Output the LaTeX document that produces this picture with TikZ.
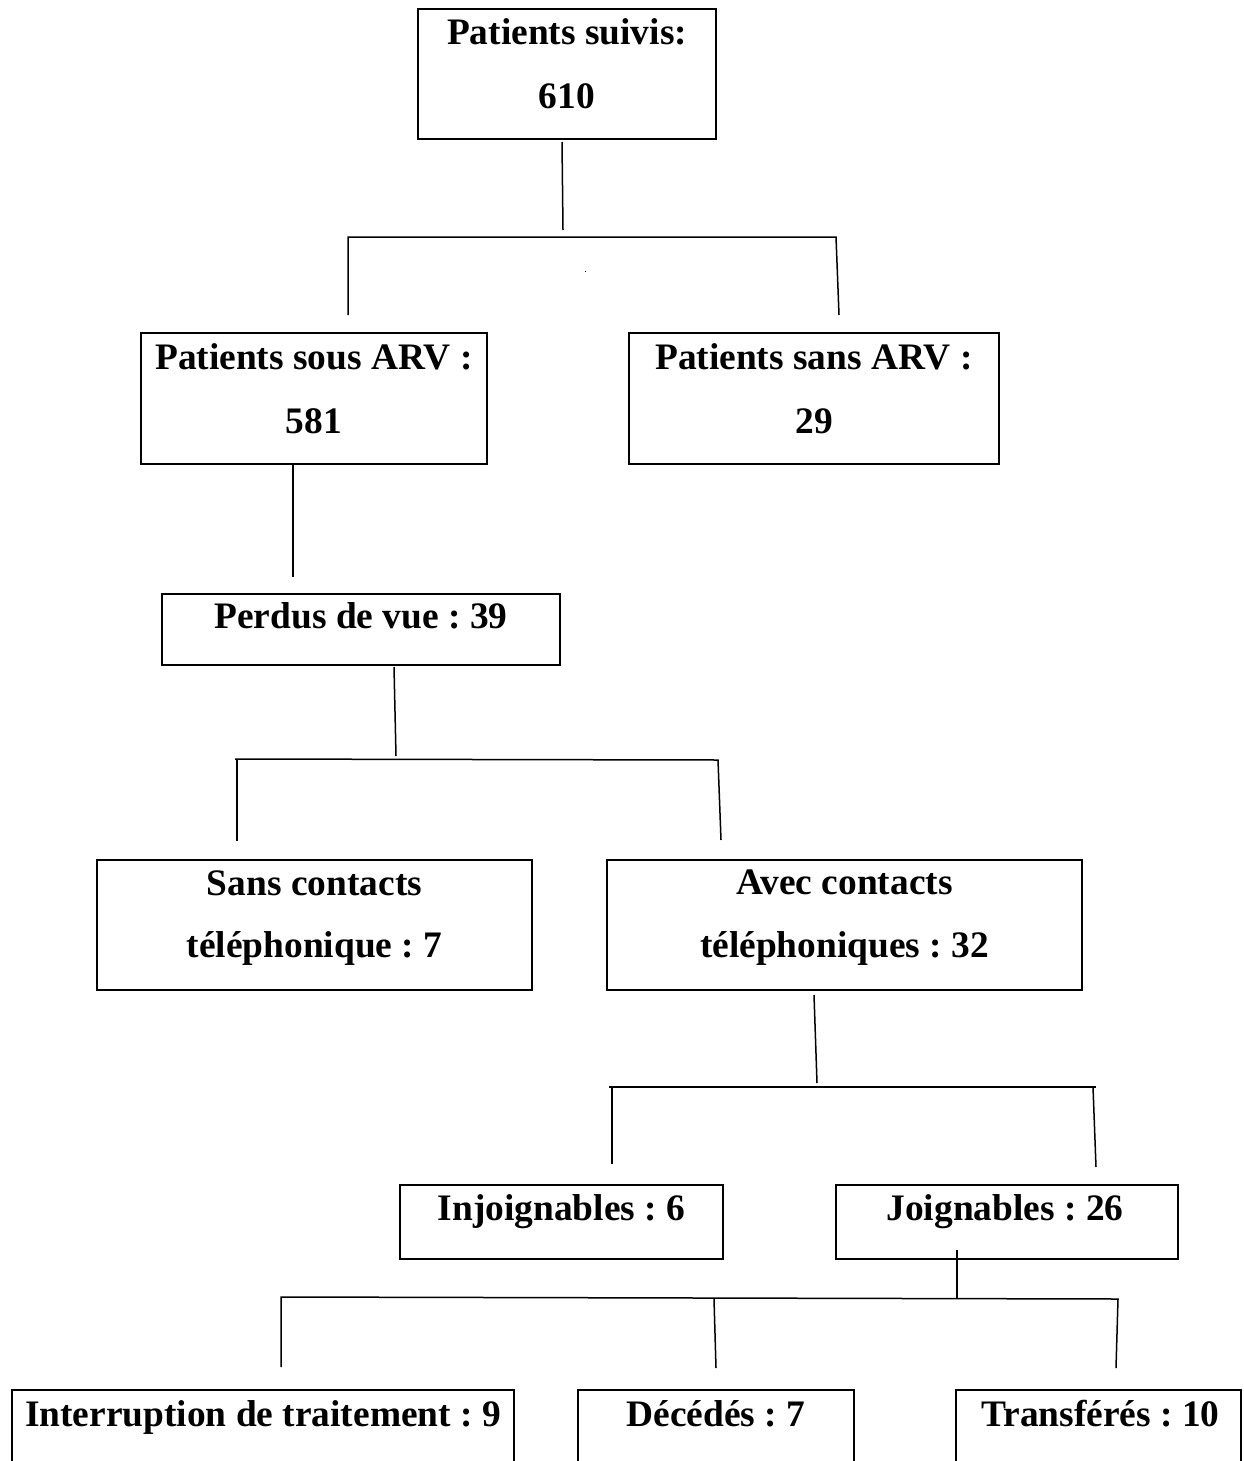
\documentclass[tikz,border=0pt]{standalone}
\usepackage{fontspec}
\setmainfont{Liberation Serif}
\usetikzlibrary{calc}
\frenchspacing
\tikzset{
  px/.style={x={(1pt,0)},y={(0,-1pt)}},
  box/.style={draw=black,line width=2pt,rectangle,inner sep=0pt,fill=none},
  lbl/.style={anchor=base,inner sep=0pt,font=\fontsize{37.4}{44}\selectfont\bfseries\frenchspacing},
  conn/.style={draw=black,line width=1.5pt}
}
\begin{document}
\begin{tikzpicture}[px]
\useasboundingbox (0,0) rectangle (1243,1461);
\clip (0,0) rectangle (1243,1461);
\fill[white] (0,0) rectangle (1243,1461);
% boxes
\node[box,minimum width=298pt,minimum height=130pt] (top) at (567,74) {};
\node[box,minimum width=346pt,minimum height=131pt] (arv) at (314,398.5) {};
\node[box,minimum width=370pt,minimum height=131pt] (sansarv) at (814,398.5) {};
\node[box,minimum width=398pt,minimum height=71pt] (perdus) at (361,629.5) {};
\node[box,minimum width=435pt,minimum height=130pt] (sansc) at (314.5,925) {};
\node[box,minimum width=475pt,minimum height=130pt] (avec) at (844.5,925) {};
\node[box,minimum width=323pt,minimum height=74pt] (injo) at (561.5,1222) {};
\node[box,minimum width=342pt,minimum height=74pt] (joig) at (1007,1222) {};
\node[box,minimum width=502pt,minimum height=110pt] (interr) at (263,1445) {};
\node[box,minimum width=276pt,minimum height=110pt] (dec) at (716,1445) {};
\node[box,minimum width=285pt,minimum height=110pt] (trans) at (1098.5,1445) {};
% texts
\node[lbl] (t1a) at ($(top.north)+(0,36.5)$) {Patients suivis:};
\node[lbl] (t1b) at ($(top.north)+(0,100.5)$) {610};
\node[lbl] (t2a) at ($(arv.north)+(0,37)$) {Patients sous ARV :};
\node[lbl] (t2b) at ($(arv.north)+(0,101)$) {581};
\node[lbl] (t3a) at ($(sansarv.north)+(0,37)$) {Patients sans ARV :};
\node[lbl] (t3b) at ($(sansarv.north)+(0,101)$) {29};
\node[lbl] (t4) at ($(perdus.north)+(0,35.5)$) {Perdus de vue : 39};
\node[lbl] (t5a) at ($(sansc.north)+(0,36)$) {Sans contacts};
\node[lbl] (t5b) at ($(sansc.north)+(0,98.5)$) {téléphonique : 7};
\node[lbl] (t6a) at ($(avec.north)+(0,35.5)$) {Avec contacts};
\node[lbl] (t6b) at ($(avec.north)+(0,98.5)$) {téléphoniques : 32};
\node[lbl] (t7) at ($(injo.north)+(0,36)$) {Injoignables : 6};
\node[lbl] (t8) at ($(joig.north)+(-2,36)$) {Joignables : 26};
\node[lbl] (t9) at ($(interr.north)+(0,37)$) {Interruption de traitement : 9};
\node[lbl] (t10) at ($(dec.north)+(0,37)$) {Décédés : 7};
\node[lbl] (t11) at ($(trans.north)+(2,37)$) {Transférés : 10};
% connector points
\coordinate (a1) at (562,142); \coordinate (a2) at (563,230);
\coordinate (b1L) at (348,237); \coordinate (b1R) at (836,237);
\coordinate (b1Le) at (348,315); \coordinate (b1Re) at (839,315);
\coordinate (c2) at (293,577);
\coordinate (d1) at (394,667); \coordinate (d2) at (396,756);
\coordinate (b2L) at (235,759); \coordinate (b2R) at (718,760);
\coordinate (b2Ls) at (237,759); \coordinate (b2Le) at (237,841); \coordinate (b2Re) at (721,840);
\coordinate (e1) at (814,995); \coordinate (e2) at (817,1083);
\coordinate (b3L) at (609,1087); \coordinate (b3R) at (1096,1087);
\coordinate (b3Ls) at (612,1087); \coordinate (b3Le) at (612,1164);
\coordinate (b3Rs) at (1093,1087); \coordinate (b3Re) at (1096,1167);
\coordinate (f1) at (957,1250); \coordinate (f2) at (957,1299);
\coordinate (b4L) at (281,1297); \coordinate (b4R) at (1118,1299);
\coordinate (b4Le) at (281,1367);
\coordinate (b4Ms) at (714,1299); \coordinate (b4Me) at (716,1368);
\coordinate (b4Re) at (1116,1368);
% connectors
\draw[conn] (a1) -- (a2);
\draw[conn] (b1Le) -- (b1L) -- (b1R) -- (b1Re);
\draw[conn] (arv.south -| c2) -- (c2);
\draw[conn] (d1) -- (d2);
\draw[conn] (b2L) -- (b2R) -- (b2Re);
\draw[conn] (b2Ls) -- (b2Le);
\draw[conn] (e1) -- (e2);
\draw[conn] (b3L) -- (b3R);
\draw[conn] (b3Ls) -- (b3Le);
\draw[conn] (b3Rs) -- (b3Re);
\draw[conn] (f1) -- (f2);
\draw[conn] (b4Le) -- (b4L) -- (b4R) -- (b4Re);
\draw[conn] (b4Ms) -- (b4Me);
\fill[blue!60!black] (584.5,270.5) rectangle (586,272);
\end{tikzpicture}
\end{document}
